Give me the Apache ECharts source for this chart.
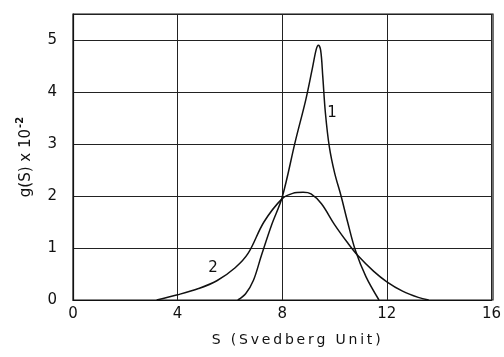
<!DOCTYPE html>
<html>
<head>
<meta charset="utf-8">
<script src="https://cdn.jsdelivr.net/npm/echarts@6/dist/echarts.min.js"></script>
<style>html,body{margin:0;padding:0;background:#fff}#c{width:504px;height:357px}</style>
</head>
<body>
<div id="c"></div>
<script>
// Curve 1: [S, g(S)x10^-2]
const curve1 = [[6.3,0],[6.6,0.12],[6.9,0.38],[7.2,0.85],[7.6,1.45],[8.0,1.98],[8.5,3.05],[8.9,3.85],[9.15,4.45],[9.3,4.82],[9.38,4.9],[9.47,4.8],[9.55,4.3],[9.65,3.6],[9.8,2.95],[10.0,2.45],[10.25,2.0],[10.5,1.5],[10.8,0.95],[11.2,0.45],[11.7,0]];
// Curve 2
const curve2 = [[3.2,0],[4,0.1],[4.8,0.22],[5.5,0.37],[6.2,0.62],[6.7,0.9],[7.3,1.5],[8.0,1.95],[8.4,2.05],[8.8,2.07],[9.1,2.04],[9.5,1.85],[10.0,1.45],[10.5,1.1],[10.9,0.85],[11.5,0.55],[12,0.35],[12.6,0.17],[13.2,0.05],[13.6,0]];
const curveNames = ['1','2'];
const curveLabelAt = [[9.9,3.6],[5.35,0.62]];
const xTicks = [0,4,8,12,16];
const yTicks = [0,1,2,3,4,5];

const chart = echarts.init(document.getElementById('c'));
const font = '"DejaVu Sans", sans-serif';
function series(data, i){
  return {
    type:'line', data:data, smooth:0.35, showSymbol:false, symbol:'none',
    lineStyle:{color:'#111', width:1.5},
    markPoint:{symbol:'circle', symbolSize:0, data:[{coord:curveLabelAt[i], value:curveNames[i]}],
      label:{show:true, formatter:curveNames[i], color:'#111', fontSize:15, fontFamily:font}}
  };
}
const spaced = s => s.split('').join('\u2009');
chart.setOption({
  animation:false,
  grid:{left:73, right:11, top:14, bottom:57},
  xAxis:{type:'value', min:0, max:16, interval:4,
    axisLine:{show:true, lineStyle:{color:'#111', width:1.2}},
    axisTick:{show:false},
    splitLine:{show:true, lineStyle:{color:'#222', width:1}},
    axisLabel:{color:'#111', fontSize:15, fontFamily:font, margin:7,
      formatter:v=>xTicks.includes(v)?String(v):''},
    name:spaced('S (Svedberg Unit)'), nameLocation:'middle', nameGap:33,
    nameTextStyle:{color:'#111', fontSize:14, fontFamily:font, padding:[0,0,0,28]}
  },
  yAxis:{type:'value', min:0, max:5.5, interval:1,
    axisLine:{show:true, lineStyle:{color:'#111', width:1.2}},
    axisTick:{show:false},
    splitLine:{show:true, lineStyle:{color:'#222', width:1}},
    axisLabel:{color:'#111', fontSize:15, fontFamily:font, margin:16,
      formatter:v=>yTicks.includes(v)?String(v):''},
    name:'{a|g(S) x 10}{b|-2}', nameLocation:'middle', nameGap:36,
    nameTextStyle:{rich:{a:{color:'#111', fontSize:15, fontFamily:font},
      b:{color:'#111', fontSize:10, fontWeight:'bold', fontFamily:font, verticalAlign:'top', padding:[0,0,12,1]}}}
  },
  graphic:[{type:'rect', shape:{x:73, y:14, width:420, height:286}, style:{fill:'none', stroke:'#111', lineWidth:1.2}, silent:true}],
  series:[series(curve1,0), series(curve2,1)]
});
</script>
</body>
</html>
